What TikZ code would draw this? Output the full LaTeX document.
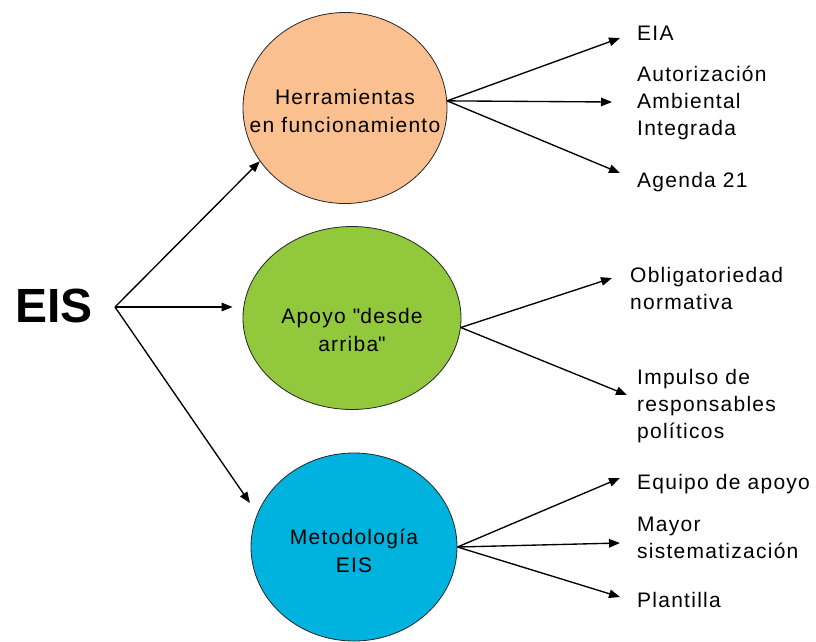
\documentclass[tikz,border=0pt]{standalone}
\usepackage{fontspec}
\setmainfont{Liberation Sans}[LetterSpace=6]
\newfontfamily\titlefont{Liberation Sans}
\usetikzlibrary{shapes.geometric, arrows.meta, positioning}
\definecolor{naranja}{RGB}{250, 192, 144}
\definecolor{verde}{RGB}{146, 200, 60}
\definecolor{azul}{RGB}{0, 178, 222}

\begin{document}
\begin{tikzpicture}[
    x=1pt, y=-1pt,
    circulo/.style={ellipse, draw=black!85, line width=0.8pt, inner sep=0pt},
    texto/.style={font=\fontsize{21}{28}\selectfont, align=center, text=black},
    item/.style={font=\fontsize{21}{27}\selectfont, align=left, anchor=west, inner sep=0pt, text=black},
    flecha/.style={-{Triangle[length=11pt, width=8.5pt]}, line width=1.35pt}
]
\useasboundingbox (0,0) rectangle (816,641);
\node[font={\titlefont\fontsize{48}{50}\selectfont\bfseries}] (eis) at (54,306) {EIS};
\coordinate (hub) at (115,307);
\node[circulo, fill=naranja, minimum width=204pt, minimum height=191pt,
      label={[texto, yshift=-3pt]center:Herramientas\\en funcionamiento}] (herr) at (345,108) {};
\node[circulo, fill=verde, minimum width=218pt, minimum height=183pt,
      label={[texto, yshift=-12pt]center:Apoyo \textquotedbl desde\\arriba\textquotedbl}] (apoyo) at (352,318) {};
\node[circulo, fill=azul, minimum width=206pt, minimum height=188pt,
      label={[texto, yshift=-4pt]center:Metodología\\EIS}] (metod) at (354,547) {};
\node[item] (eia) at (637,33) {EIA};
\node[item] (aai) at (637,103) {Autorización\\Ambiental\\Integrada};
\node[item] (agenda) at (637,182) {Agenda 21};
\node[item] (oblig) at (630,288) {Obligatoriedad\\normativa};
\node[item] (impulso) at (637,406) {Impulso de\\responsables\\políticos};
\node[item] (equipo) at (637,484) {Equipo de apoyo};
\node[item] (mayor) at (637,538) {Mayor\\sistematización};
\node[item] (plantilla) at (637,600) {Plantilla};
\coordinate (eia-in) at (620,38);
\coordinate (aai-in) at (612,102);
\coordinate (agenda-in) at (620,173);
\coordinate (oblig-in) at (612,278);
\coordinate (impulso-in) at (627,395);
\coordinate (equipo-in) at (620,478);
\coordinate (mayor-in) at (620,543);
\coordinate (plantilla-in) at (620,597);
\draw[flecha] (hub) -- (herr.212);
\draw[flecha, shorten >=10pt] (hub) -- (hub -| apoyo.west);
\draw[flecha, shorten >=13pt] (hub) -- (metod.161);
\draw[flecha] (herr.4) -- (eia-in);
\draw[flecha] (herr.4) -- (aai-in);
\draw[flecha] (herr.4) -- (agenda-in);
\draw[flecha] (apoyo.-5) -- (oblig-in);
\draw[flecha] (apoyo.-5) -- (impulso-in);
\draw[flecha] (metod.east) -- (equipo-in);
\draw[flecha] (metod.east) -- (mayor-in);
\draw[flecha] (metod.east) -- (plantilla-in);
\end{tikzpicture}
\end{document}
